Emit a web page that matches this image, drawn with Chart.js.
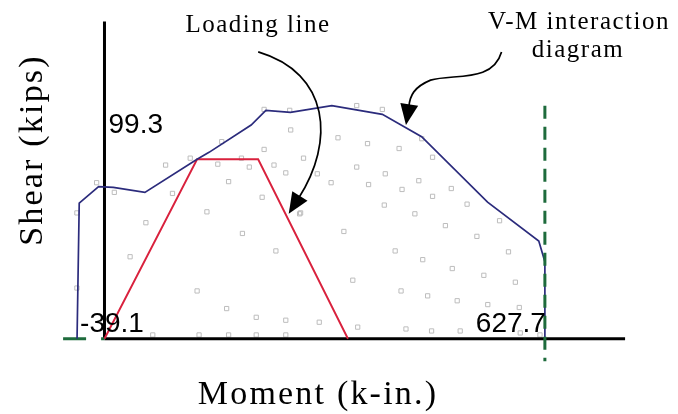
<!DOCTYPE html>
<html>
<head>
<meta charset="utf-8">
<script src="https://cdn.jsdelivr.net/npm/chart.js@4/dist/chart.umd.min.js"></script>
<style>
  html, body { margin: 0; padding: 0; background: #ffffff; }
  #c { display: block; }
</style>
</head>
<body>
<canvas id="c" width="678" height="414"></canvas>
<script>
// ---- Data (moment in k-in., shear in kips) ----
const interactionMoment = [-39.1, -36.0, -8.4, 12.6, 57.6, 132.0, 149.0, 209.0, 230.0, 265.0, 324.0, 396.0, 452.0, 546.0, 619.0, 627.7, 627.7];
const interactionShear  = [0, 88.5, 99.3, 98.7, 95.5, 117.1, 121.6, 139.4, 149.0, 147.7, 152.1, 146.4, 131.8, 89.1, 63.7, 50.3, 0];

const loadingMoment = [0, 132.0, 219.0, 347.0];
const loadingShear  = [0, 117.1, 117.1, 0];

// faint background sample points
const sampleMoment = [87.1,161.5,195.2,206.4,227.5,241.6,258.4,283.7,303.3,323.0,359.5,176.9,96.9,14.0,146.0,224.7,279.5,59.0,196.6,341.2,244.3,36.5,353.9,132.0,174.1,216.3,258.4,306.1,360.9,-39.3,-39.3,68.8,134.8,176.9,216.3,258.4,398.8,516.8,442.4,485.9,563.1,530.8,414.3,453.6,575.8,495.7,540.7,585.6,422.7,460.6,502.7,546.3,591.2,429.7,466.2,507.0,592.6,620.7,227.5,264.0,359.5,396.0,265.4,332.8,374.9,419.9,452.2,467.6,400.2,376.4,448.0,424.1,467.6,278.1,494.3,-11.2,122.2,167.1];
const sampleShear  = [113.3,113.9,117.8,112.0,123.5,113.3,108.2,117.8,107.6,101.8,112.0,102.5,94.8,95.5,82.8,92.3,82.1,75.7,68.7,70.0,57.3,53.5,38.2,31.2,19.7,14.0,12.1,10.8,7.6,82.1,33.1,2.5,2.5,2.5,2.5,2.5,87.2,87.8,81.5,73.8,77.0,66.8,57.3,51.6,56.7,45.8,41.4,36.9,31.2,28.0,24.8,22.3,20.4,6.4,5.1,5.1,3.8,2.5,149.6,149.0,152.1,149.6,136.2,131.1,127.3,124.1,130.5,118.4,107.6,100.6,103.1,97.4,92.9,81.5,98.0,101.8,117.8,128.6];

const keyValues = { negMoment: -39.1, posMoment: 627.7, shearAtZero: 99.3 };

const xAxisEnd = 742;      // moment where drawn x axis ends
const yAxisEnd = 207;      // shear where drawn y axis ends
const capacityLineRange = [-14.6, 152.0];   // shear span of dashed capacity line
const zeroLineStart = -59;                   // moment where green zero line starts

// annotation arrow paths (data coordinates)
const loadingArrow = { start: [219.1, 187.1], c1: [321.6, 173.1], c2: [328.6, 128.6], end: [276.6, 91.7], tip: [262.6, 81.5] };
const vmArrow = {
  start: [565.9, 187.1],
  segs: [ [[553.3,166.8],[497.1,173.1],[464.8,168.7]], [[440.9,164.2],[435.3,158.5],[433.9,151.5]] ],
  tip: [429.7, 139.4]
};

const toPts = (xs, ys) => xs.map((x, i) => ({ x: x, y: ys[i] }));

const overlay = {
  id: 'overlay',
  afterDatasetsDraw(chart) {
    const ctx = chart.ctx;
    const sx = chart.scales.x, sy = chart.scales.y;
    const P = (p) => [sx.getPixelForValue(p[0]), sy.getPixelForValue(p[1])];
    ctx.save();

    // arrows
    function head(from, tip) {
      const dx = tip[0] - from[0], dy = tip[1] - from[1];
      const L = Math.hypot(dx, dy), ux = dx / L, uy = dy / L;
      const len = 21, w = 9;
      const bx = tip[0] - ux * len, by = tip[1] - uy * len;
      ctx.beginPath();
      ctx.moveTo(tip[0], tip[1]);
      ctx.lineTo(bx - uy * w, by + ux * w);
      ctx.lineTo(bx + uy * w, by - ux * w);
      ctx.closePath();
      ctx.fillStyle = '#000';
      ctx.fill();
    }
    ctx.strokeStyle = '#000';
    ctx.lineWidth = 1.7;
    let a = loadingArrow;
    let s = P(a.start), c1 = P(a.c1), c2 = P(a.c2), e = P(a.end), t = P(a.tip);
    ctx.beginPath(); ctx.moveTo(s[0], s[1]); ctx.bezierCurveTo(c1[0], c1[1], c2[0], c2[1], e[0], e[1]); ctx.stroke();
    head(e, t);

    s = P(vmArrow.start);
    ctx.beginPath(); ctx.moveTo(s[0], s[1]);
    let last = s;
    vmArrow.segs.forEach(sg => { const q1 = P(sg[0]), q2 = P(sg[1]), q3 = P(sg[2]); ctx.bezierCurveTo(q1[0], q1[1], q2[0], q2[1], q3[0], q3[1]); last = q3; });
    ctx.stroke();
    head(last, P(vmArrow.tip));

    // key value labels
    ctx.fillStyle = '#000';
    ctx.font = '28px "Liberation Sans", Arial, sans-serif';
    ctx.textBaseline = 'alphabetic';
    const y0 = sy.getPixelForValue(0);
    ctx.textAlign = 'left';
    ctx.fillText('-39.1', sx.getPixelForValue(keyValues.negMoment) + 3, y0 - 7);
    ctx.textAlign = 'right';
    ctx.fillText('627.7', sx.getPixelForValue(keyValues.posMoment) + 1, y0 - 7);
    ctx.textAlign = 'left';
    ctx.fillText('99.3', sx.getPixelForValue(0) + 4, sy.getPixelForValue(134.3));

    // titles and notes (serif)
    const serif = '"Liberation Serif", "Times New Roman", serif';
    ctx.textAlign = 'center';
    try { ctx.letterSpacing = '2.2px'; } catch (err) {}
    ctx.font = '34px ' + serif;
    ctx.fillText('Moment (k-in.)', 318, 404);
    ctx.save();
    ctx.translate(42, 150);
    ctx.rotate(-Math.PI / 2);
    ctx.font = '34px ' + serif;
    ctx.fillText('Shear (kips)', 0, 0);
    ctx.restore();
    try { ctx.letterSpacing = '1.5px'; } catch (err) {}
    ctx.font = '25px ' + serif;
    ctx.fillText('Loading line', 258, 32);
    ctx.fillText('V-M interaction', 579, 29);
    ctx.fillText('diagram', 578, 57);
    ctx.restore();
  }
};

new Chart(document.getElementById('c'), {
  type: 'scatter',
  data: {
    datasets: [
      { label: 'samples', data: toPts(sampleMoment, sampleShear), pointStyle: 'rect', pointRadius: 3,
        borderColor: '#bdbdbd', backgroundColor: 'rgba(0,0,0,0)', borderWidth: 1, showLine: false, order: 20 },
      { label: 'x axis', data: [{x: 0, y: 0}, {x: xAxisEnd, y: 0}], showLine: true, borderColor: '#000', borderWidth: 3, pointRadius: 0, order: 5 },
      { label: 'y axis', data: [{x: 0, y: 0}, {x: 0, y: yAxisEnd}], showLine: true, borderColor: '#000', borderWidth: 3, pointRadius: 0, order: 5 },
      { label: 'zero line', data: [{x: zeroLineStart, y: 0}, {x: 0, y: 0}], showLine: true, borderColor: '#1e6b3c', borderWidth: 3, borderDash: [23, 15], pointRadius: 0, order: 4 },
      { label: 'capacity', data: [{x: keyValues.posMoment, y: capacityLineRange[1]}, {x: keyValues.posMoment, y: capacityLineRange[0]}], showLine: true, borderColor: '#1e6b3c', borderWidth: 3, borderDash: [13, 8], pointRadius: 0, order: 1 },
      { label: 'V-M interaction diagram', data: toPts(interactionMoment, interactionShear), showLine: true, borderColor: '#2b2b7c', borderWidth: 1.7, pointRadius: 0, order: 2 },
      { label: 'Loading line', data: toPts(loadingMoment, loadingShear), showLine: true, borderColor: '#d9213d', borderWidth: 1.9, pointRadius: 0, order: 3 }
    ]
  },
  options: {
    responsive: false,
    animation: false,
    devicePixelRatio: 1,
    clip: false,
    layout: { padding: 0 },
    plugins: { legend: { display: false }, tooltip: { enabled: false } },
    scales: {
      x: { type: 'linear', min: -141.8, max: 810.3, display: false },
      y: { type: 'linear', min: -45.8, max: 217.7, display: false }
    }
  },
  plugins: [overlay]
});
</script>
</body>
</html>
